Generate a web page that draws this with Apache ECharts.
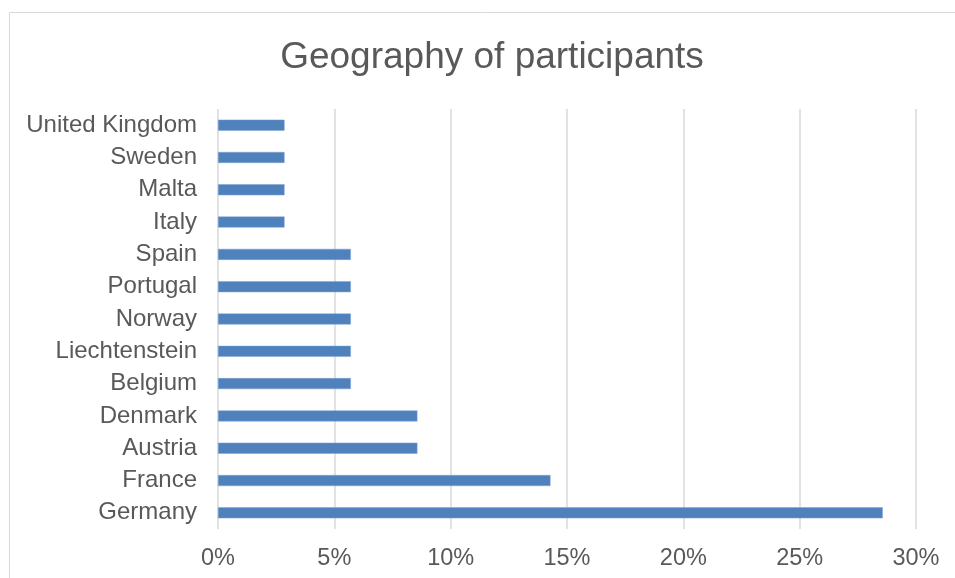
<!DOCTYPE html>
<html>
<head>
<meta charset="utf-8">
<script src="https://cdn.jsdelivr.net/npm/echarts@6/dist/echarts.min.js"></script>
<style>
html,body{margin:0;padding:0;background:#fff;}
#chart{width:955px;height:578px;}
</style>
</head>
<body>
<div id="chart"></div>
<script>
const titleText = "Geography of participants";
const categories = ["Germany","France","Austria","Denmark","Belgium","Liechtenstein","Norway","Portugal","Spain","Italy","Malta","Sweden","United Kingdom"];
const values = [28.57, 14.29, 8.57, 8.57, 5.71, 5.71, 5.71, 5.71, 5.71, 2.86, 2.86, 2.86, 2.86];
const xTicks = [0, 5, 10, 15, 20, 25, 30];

const chart = echarts.init(document.getElementById('chart'), null, {renderer:'canvas'});
const font = '"Liberation Sans", Arial, sans-serif';
chart.setOption({
  animation: false,
  backgroundColor: '#ffffff',
  title: {
    text: titleText,
    left: 487, top: 34, textAlign: 'center',
    textStyle: {fontFamily: font, fontSize: 37, fontWeight: 'normal', color: '#595959'}
  },
  graphic: [{
    type: 'rect', silent: true,
    shape: {x: 9.5, y: 12.5, width: 1000, height: 700},
    style: {fill: 'none', stroke: '#d9d9d9', lineWidth: 1}
  }],
  grid: {left: 218, right: 39, top: 109, bottom: 49, containLabel: false},
  xAxis: {
    type: 'value',
    min: xTicks[0], max: xTicks[xTicks.length - 1], interval: xTicks[1] - xTicks[0],
    axisLine: {show: false}, axisTick: {show: false},
    splitLine: {show: true, lineStyle: {color: '#d9d9d9', width: 1.5}},
    axisLabel: {formatter: '{value}%', fontFamily: font, fontSize: 23.5, color: '#595959', margin: 18}
  },
  yAxis: {
    type: 'category', data: categories,
    axisLine: {show: false}, axisTick: {show: false},
    axisLabel: {fontFamily: font, fontSize: 24, color: '#595959', margin: 21, padding: [3, 0, 0, 0]}
  },
  series: [{
    type: 'bar', data: values, barWidth: 11,
    itemStyle: {color: '#4f81bd', borderColor: '#7fa3d0', borderWidth: 0.5}
  }]
});
</script>
</body>
</html>
